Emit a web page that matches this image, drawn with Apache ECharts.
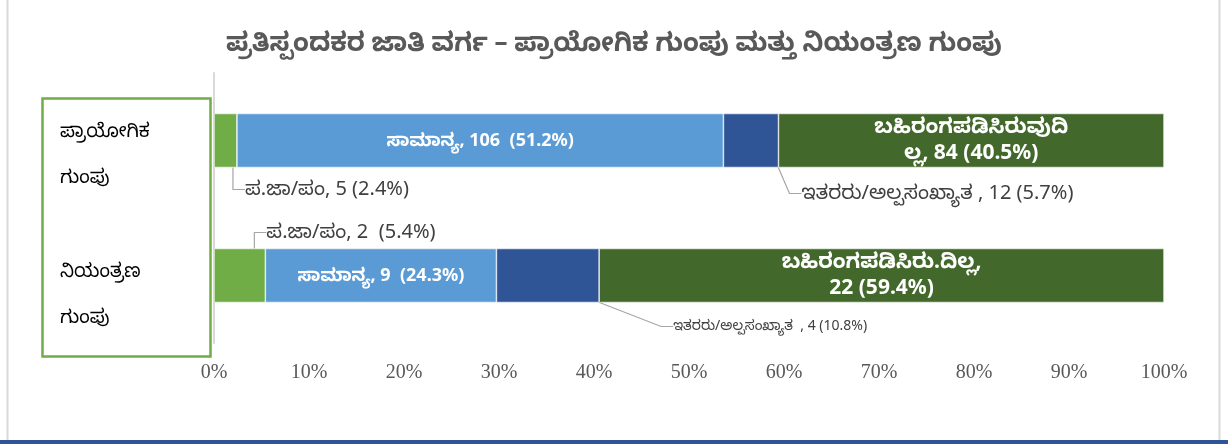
<!DOCTYPE html>
<html>
<head>
<meta charset="utf-8">
<script src="https://cdn.jsdelivr.net/npm/echarts@6/dist/echarts.min.js"></script>
<style>
html,body{margin:0;padding:0;background:#fff;}
#chart{width:1228px;height:444px;}
</style>
</head>
<body>
<div id="chart"></div>
<script>
// ---- data ----
const titleText = 'ಪ್ರತಿಸ್ಪಂದಕರ ಜಾತಿ ವರ್ಗ – ಪ್ರಾಯೋಗಿಕ ಗುಂಪು ಮತ್ತು ನಿಯಂತ್ರಣ ಗುಂಪು';
const categories = ['ಪ್ರಾಯೋಗಿಕ\nಗುಂಪು', 'ನಿಯಂತ್ರಣ\nಗುಂಪು'];
const seriesNames = ['ಪ.ಜಾ/ಪಂ', 'ಸಾಮಾನ್ಯ', 'ಇತರರು/ಅಲ್ಪಸಂಖ್ಯಾತ', 'ಬಹಿರಂಗಪಡಿಸಿರುವುದಿಲ್ಲ'];
const scCounts = [5, 2];
const genCounts = [106, 9];
const othCounts = [12, 4];
const ndCounts = [84, 22];
const scPct = ['2.4', '5.4'];
const genPct = ['51.2', '24.3'];
const othPct = ['5.7', '10.8'];
const ndPct = ['40.5', '59.4'];
// label texts as printed in the original
const scLabels = ['ಪ.ಜಾ/ಪಂ, 5 (2.4%)', 'ಪ.ಜಾ/ಪಂ, 2  (5.4%)'];
const genLabels = ['ಸಾಮಾನ್ಯ, 106  (51.2%)', 'ಸಾಮಾನ್ಯ, 9  (24.3%)'];
const othLabels = ['ಇತರರು/ಅಲ್ಪಸಂಖ್ಯಾತ , 12 (5.7%)', 'ಇತರರು/ಅಲ್ಪಸಂಖ್ಯಾತ  , 4 (10.8%)'];
const ndLabels = ['ಬಹಿರಂಗಪಡಿಸಿರುವುದಿ\nಲ್ಲ, 84 (40.5%)', 'ಬಹಿರಂಗಪಡಿಸಿರು.ದಿಲ್ಲ,\n22 (59.4%)'];
const xTicks = [0, 10, 20, 30, 40, 50, 60, 70, 80, 90, 100];

// ---- build ----
const totals = categories.map((c, i) => scCounts[i] + genCounts[i] + othCounts[i] + ndCounts[i]);
const share = (arr) => arr.map((v, i) => v / totals[i] * 100);

const FONT = "'Noto Sans', 'Noto Sans Kannada', sans-serif";
const colors = ['#70AD47', '#5B9BD5', '#2F5597', '#43682B'];

const chart = echarts.init(document.getElementById('chart'));

const baseItem = (c) => ({ color: c, borderColor: '#ffffff', borderWidth: 0.6 });

const option = {
  animation: false,
  backgroundColor: '#ffffff',
  title: {
    text: titleText,
    left: 'center',
    top: 26,
    textStyle: { fontFamily: FONT, fontSize: 26, fontWeight: 'bold', color: '#595959' }
  },
  grid: { left: 214, right: 64, top: 73, bottom: 101 },
  xAxis: {
    type: 'value',
    min: 0, max: 100, interval: 10,
    axisLine: { show: false },
    axisTick: { show: false },
    splitLine: { show: false },
    axisLabel: {
      margin: 20,
      fontFamily: "'Liberation Serif', serif",
      fontSize: 20,
      color: '#595959',
      formatter: (v) => (xTicks.indexOf(v) >= 0 ? v + '%' : '')
    }
  },
  yAxis: {
    type: 'category',
    inverse: true,
    data: categories,
    axisLine: { show: true, lineStyle: { color: '#d9d9d9', width: 2 } },
    axisTick: { show: false },
    axisLabel: {
      interval: 0,
      hideOverlap: false,
      align: 'left',
      margin: 154,
      fontFamily: FONT,
      color: '#000000',
      formatter: (v, i) => (i === 0 ? '{s|}' : '{s2|}') + '\n' +
        v.split('\n').map((t) => '{t|' + t + '}').join('\n'),
      rich: {
        s: { height: 28, lineHeight: 28, fontSize: 1 },
        s2: { height: 38, lineHeight: 38, fontSize: 1 },
        t: { fontFamily: FONT, fontSize: 19, lineHeight: 46, color: '#000000' }
      }
    }
  },
  graphic: [
    { type: 'rect', left: 40, top: 96, shape: { width: 168, height: 258 },
      style: { fill: 'none', stroke: '#70AD47', lineWidth: 2.5 }, z: 10 },
    { type: 'rect', left: 5, top: -4, shape: { width: 1212, height: 443 },
      style: { fill: 'none', stroke: '#d9d9d9', lineWidth: 2 }, z: 1 },
    { type: 'rect', left: 0, top: 440, shape: { width: 1228, height: 4 },
      style: { fill: '#2F5597' }, z: 2 }
  ],
  series: [
    {
      name: seriesNames[0], type: 'bar', stack: 'all', barWidth: '40%',
      data: share(scCounts),
      itemStyle: baseItem(colors[0]),
      label: {
        show: true, fontFamily: FONT, fontSize: 20, color: '#404040',
        formatter: (p) => scLabels[p.dataIndex]
      },
      labelLine: { show: true, length2: 12, lineStyle: { color: '#a6a6a6', width: 1.2 } },
      labelLayout: function (p) {
        const r = p.rect;
        if (p.dataIndex === 0) {
          return { x: r.x + r.width + 8, y: r.y + r.height + 22, align: 'left', verticalAlign: 'middle' };
        }
        return { x: r.x + r.width + 1, y: r.y - 16, align: 'left', verticalAlign: 'middle' };
      }
    },
    {
      name: seriesNames[1], type: 'bar', stack: 'all', barWidth: '40%',
      data: share(genCounts),
      itemStyle: baseItem(colors[1]),
      label: {
        show: true, position: 'inside', fontFamily: FONT, fontSize: 18, fontWeight: 'bold', color: '#ffffff',
        formatter: (p) => genLabels[p.dataIndex]
      }
    },
    {
      name: seriesNames[2], type: 'bar', stack: 'all', barWidth: '40%',
      data: share(othCounts),
      itemStyle: baseItem(colors[2]),
      label: {
        show: true, fontFamily: FONT, color: '#404040',
        formatter: (p) => othLabels[p.dataIndex]
      },
      labelLine: { show: true, length2: 12, lineStyle: { color: '#a6a6a6', width: 1.2 } },
      labelLayout: function (p) {
        const r = p.rect;
        const right = r.x + r.width, bottom = r.y + r.height;
        if (p.dataIndex === 0) {
          return { x: right + 23, y: bottom + 26, align: 'left', verticalAlign: 'middle', fontSize: 20 };
        }
        return { x: right + 74, y: bottom + 24, align: 'left', verticalAlign: 'middle', fontSize: 14 };
      }
    },
    {
      name: seriesNames[3], type: 'bar', stack: 'all', barWidth: '40%',
      data: share(ndCounts),
      itemStyle: baseItem(colors[3]),
      label: {
        show: true, position: 'inside', fontFamily: FONT, fontSize: 21, lineHeight: 26, fontWeight: 'bold', color: '#ffffff',
        formatter: (p) => ndLabels[p.dataIndex]
      }
    }
  ]
};
chart.setOption(option);
</script>
</body>
</html>
